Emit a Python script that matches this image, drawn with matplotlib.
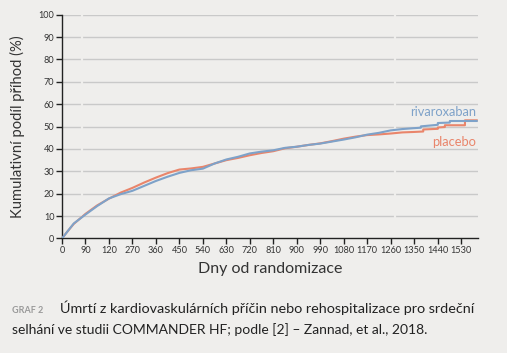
import numpy as np
from matplotlib import pyplot as plt

# data (days, cumulative %)
riva_days = [0, 20, 45, 90, 135, 180, 225, 270, 315, 360, 405, 450, 495, 540,
             585, 630, 675, 720, 765, 810, 855, 900, 945, 990, 1035, 1080,
             1125, 1170, 1215, 1260, 1305, 1350, 1376, 1376, 1441, 1441,
             1487, 1487, 1590]
riva_vals = [0, 3, 6.7, 10.7, 14.5, 17.9, 19.8, 21.3, 23.5, 25.7, 27.6, 29.3,
             30.5, 31.2, 33.5, 35.3, 36.5, 38.0, 38.8, 39.4, 40.5, 41.0, 41.8,
             42.4, 43.3, 44.2, 45.2, 46.4, 47.2, 48.3, 48.9, 49.3, 49.5, 50.1,
             50.8, 51.6, 51.8, 52.5, 52.5]

plac_days = [0, 20, 45, 90, 135, 180, 225, 270, 315, 360, 405, 450, 495, 540,
             585, 630, 675, 720, 765, 810, 855, 900, 945, 990, 1035, 1080,
             1125, 1170, 1215, 1260, 1305, 1350, 1385, 1385, 1441, 1441,
             1468, 1468, 1545, 1545, 1590]
plac_vals = [0, 3, 6.5, 11, 14.8, 17.8, 20.5, 22.6, 25, 27.2, 29.2, 30.8,
             31.3, 32.0, 33.5, 35.0, 36.0, 37.2, 38.2, 39.0, 40.3, 41.0, 41.8,
             42.5, 43.5, 44.6, 45.5, 46.2, 46.5, 46.9, 47.4, 47.6, 47.8, 48.7,
             49.0, 49.6, 49.8, 50.6, 50.6, 52.8, 52.8]

xticks = np.arange(0, 1531, 90)
xlabels = ['0', '90', '120', '270', '360', '450', '540', '630', '720', '810',
           '900', '990', '1080', '1170', '1260', '1350', '1440', '1530']
yticks = np.arange(0, 101, 10)

bg = '#efeeec'
blue = '#7ea2c9'
orange = '#e9856b'
plt.rcParams['font.family'] = ['Lato', 'DejaVu Sans']

fig = plt.figure(figsize=(5.07, 3.53), dpi=100, facecolor=bg)
ax = fig.add_axes([0.1223, 0.3244, 0.8205, 0.634])
ax.set_facecolor(bg)

for y in yticks[1:]:
    ax.axhline(y, color='#c9c9c9', lw=1, zorder=1)
# small breaks in the gridlines, as in the original
for xb in [77, 1278]:
    ax.axvline(xb, color=bg, lw=1.6, zorder=2)

ax.plot(plac_days, plac_vals, color=orange, lw=1.5, zorder=3)
ax.plot(riva_days, riva_vals, color=blue, lw=1.5, zorder=4)

ax.text(1588, 56.5, 'rivaroxaban', color=blue, fontsize=9.3, ha='right', va='center')
ax.text(1588, 43.3, 'placebo', color=orange, fontsize=9.3, ha='right', va='center')

ax.set_xlim(0, 1595)
ax.set_ylim(0, 100)
ax.set_xticks(xticks)
ax.set_xticklabels(xlabels)
ax.set_yticks(yticks)
for s in ['top', 'right']:
    ax.spines[s].set_visible(False)
for s in ['left', 'bottom']:
    ax.spines[s].set_color('#222222')
    ax.spines[s].set_linewidth(1)
ax.tick_params(axis='both', length=4, width=1, color='#222222',
               labelsize=6.6, labelcolor='#333333', pad=1.5)

ax.set_xlabel('Dny od randomizace', fontsize=11.5, color='#333333', labelpad=5)
ax.set_ylabel('Kumulativní podíl příhod (%)', fontsize=10.6, color='#333333', labelpad=10)

fig.text(0.024, 0.112, 'GRAF 2', fontsize=6.5, color='#9a9a9a', fontweight='bold')
fig.text(0.118, 0.112, 'Úmrtí z kardiovaskulárních příčin nebo rehospitalizace pro srdeční',
         fontsize=10.4, color='#222222')
fig.text(0.024, 0.055, 'selhání ve studii COMMANDER HF; podle [2] – Zannad, et al., 2018.',
         fontsize=10.0, color='#222222')

fig.savefig('out.png', dpi=100, facecolor=bg)
